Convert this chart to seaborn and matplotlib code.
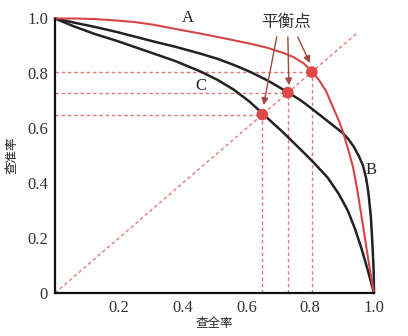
import matplotlib
matplotlib.use("Agg")
import matplotlib.pyplot as plt
import seaborn as sns
import pandas as pd

# Curve A (red)
a_recall = [0.0, 0.06, 0.126, 0.19, 0.25, 0.31, 0.377, 0.456, 0.53, 0.613, 0.667, 0.717, 0.75, 0.78,
            0.805, 0.828, 0.849, 0.874, 0.89, 0.902, 0.918, 0.934, 0.947, 0.958, 0.969, 0.985, 1.0]
a_precision = [1.0, 1.0, 0.998, 0.993, 0.987, 0.977, 0.962, 0.945, 0.928, 0.908, 0.893, 0.874, 0.858, 0.836,
               0.808, 0.775, 0.737, 0.67, 0.627, 0.59, 0.527, 0.46, 0.38, 0.30, 0.22, 0.10, 0.0]
# Curve B (black, outer)
b_recall = [0.0, 0.06, 0.126, 0.19, 0.25, 0.31, 0.377, 0.456, 0.51, 0.56, 0.613, 0.667, 0.733, 0.77,
            0.80, 0.833, 0.87, 0.902, 0.92, 0.937, 0.952, 0.965, 0.975, 0.982, 0.99, 0.995, 0.999, 1.0]
b_precision = [1.0, 0.985, 0.969, 0.952, 0.934, 0.916, 0.897, 0.872, 0.853, 0.831, 0.805, 0.774, 0.729, 0.702,
               0.676, 0.646, 0.612, 0.583, 0.56, 0.532, 0.50, 0.466, 0.42, 0.37, 0.28, 0.18, 0.08, 0.0]
# Curve C (black, inner)
c_recall = [0.0, 0.06, 0.126, 0.19, 0.25, 0.31, 0.377, 0.456, 0.51, 0.56, 0.61, 0.654, 0.717, 0.775,
            0.811, 0.855, 0.89, 0.918, 0.94, 0.96, 0.98, 1.0]
c_precision = [1.0, 0.971, 0.943, 0.92, 0.896, 0.872, 0.845, 0.807, 0.776, 0.741, 0.697, 0.65, 0.583, 0.517,
               0.475, 0.42, 0.36, 0.30, 0.235, 0.165, 0.085, 0.0]
# Break-even points
bep_values = [0.65, 0.73, 0.805]
diag_end = 0.95

x_ticks = [0.2, 0.4, 0.6, 0.8, 1.0]
x_ticklabels = ["0.2", "0.4", "0.6", "0.8", "1.0"]
y_ticks = [0.0, 0.2, 0.4, 0.6, 0.8, 1.0]
y_ticklabels = ["0", "0.2", "0.4", "0.6", "0.8", "1.0"]

sns.set_style("white")
plt.rcParams['font.family'] = ['Liberation Serif', 'Noto Sans CJK SC', 'DejaVu Sans']

fig = plt.figure(figsize=(4.08, 3.36), dpi=100)
ax = fig.add_axes([55/408, 1-293/336, (374-55)/408, (293-18.5)/336])

red = '#d64545'
dash_red = '#e07a7a'
black = '#222222'
dash = (0, (2.5, 2))

# diagonal
diag = pd.DataFrame({'x': [0.0, diag_end], 'y': [0.0, diag_end]})
sns.lineplot(data=diag, x='x', y='y', ax=ax, color=dash_red, lw=1.0,
             linestyle=dash, estimator=None, sort=False)

# guide lines
for v in bep_values:
    ax.plot([0, v], [v, v], color=dash_red, lw=1.0, linestyle=dash)
    ax.plot([v, v], [0, v], color=dash_red, lw=1.0, linestyle=dash)

for xs, ys, col, lw in [(b_recall, b_precision, black, 1.8),
                        (c_recall, c_precision, black, 1.8),
                        (a_recall, a_precision, red, 1.5)]:
    df = pd.DataFrame({'recall': xs, 'precision': ys})
    sns.lineplot(data=df, x='recall', y='precision', ax=ax, color=col, lw=lw,
                 estimator=None, sort=False, clip_on=False)

pts = pd.DataFrame({'x': bep_values, 'y': bep_values})
sns.scatterplot(data=pts, x='x', y='y', ax=ax, color='#e04848', s=70,
                edgecolor='none', zorder=5, clip_on=False)

# arrows
arrow_col = '#a8473f'
starts = [(0.695, 0.933), (0.730, 0.933), (0.761, 0.933)]
ends = [(0.654, 0.685), (0.733, 0.757), (0.799, 0.838)]
for s, e in zip(starts, ends):
    ax.annotate('', xy=e, xytext=s,
                arrowprops=dict(arrowstyle='-|>', color=arrow_col, lw=1.0,
                                mutation_scale=10, shrinkA=0, shrinkB=0))
ax.text(0.723, 0.984, '平衡点', ha='center', va='center', fontsize=12,
        family=['Noto Sans CJK SC'], color='#333333')

ax.text(0.418, 1.0, 'A', ha='center', va='center', fontsize=12, color='#222222')
ax.text(0.456, 0.754, 'C', ha='center', va='center', fontsize=12, color='#222222')
ax.text(0.99, 0.448, 'B', ha='center', va='center', fontsize=12, color='#222222')

ax.set_xlim(0, 1.0)
ax.set_ylim(0, 1.0)
ax.set_xticks(x_ticks)
ax.set_xticklabels(x_ticklabels)
ax.set_yticks(y_ticks)
ax.set_yticklabels(y_ticklabels)
ax.tick_params(direction='in', length=4, width=1.2, labelsize=12,
               labelcolor='#333333', color='#222222', pad=5)
for sp in ['top', 'right']:
    ax.spines[sp].set_visible(False)
for sp in ['left', 'bottom']:
    ax.spines[sp].set_color('#111111')
    ax.spines[sp].set_linewidth(1.6)

ax.set_xlabel('查全率', family=['Noto Sans CJK SC'], fontsize=9, labelpad=1)
ax.set_ylabel('查准率', family=['Noto Sans CJK SC'], fontsize=9, labelpad=6)

fig.savefig('out.png', dpi=100)
